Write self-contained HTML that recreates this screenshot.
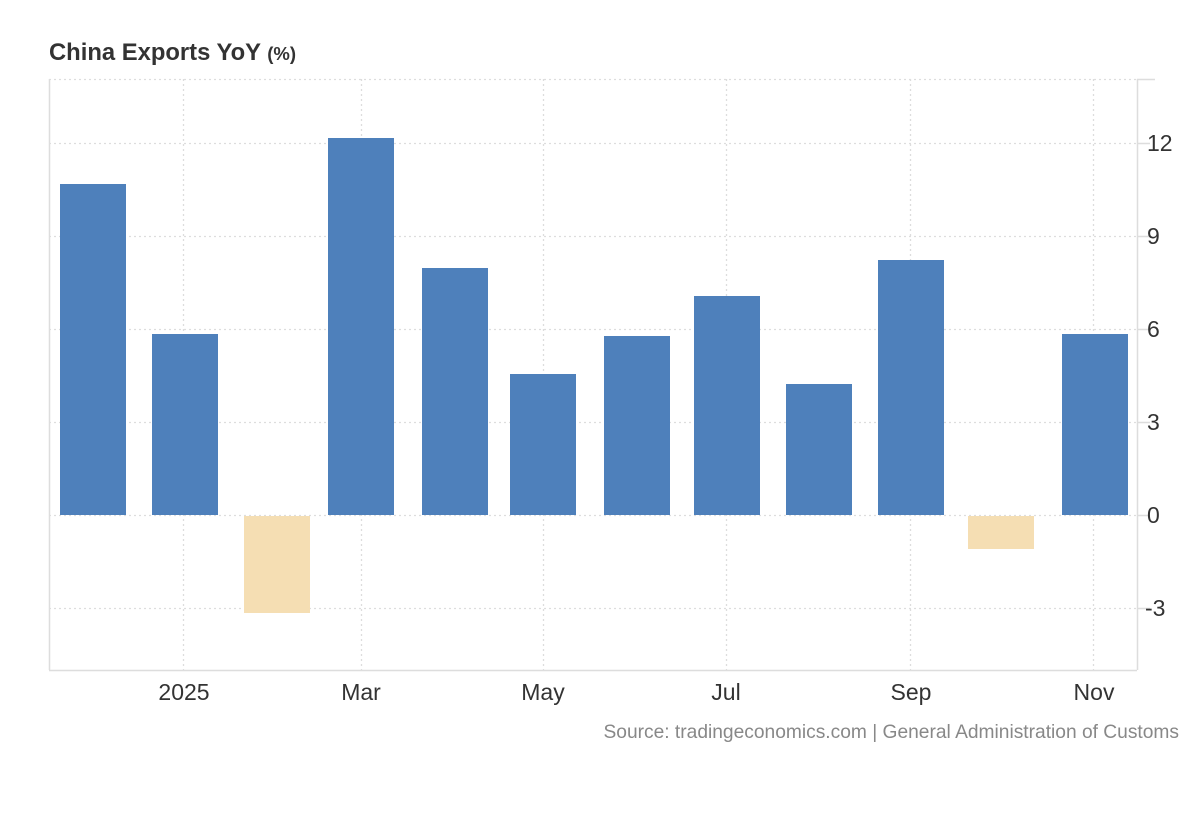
<!DOCTYPE html>
<html><head><meta charset="utf-8"><style>
html,body{margin:0;padding:0;background:#fff;}
body{width:1200px;height:820px;overflow:hidden;font-family:"Liberation Sans",Arial,sans-serif;}
</style></head><body>
<svg width="1200" height="820" xmlns="http://www.w3.org/2000/svg" font-family="Liberation Sans, Arial, sans-serif">
<text x="49" y="60" font-size="23.8" font-weight="bold" fill="#333">China Exports YoY <tspan font-size="18.5">(%)</tspan></text>
<g stroke="#ddd" stroke-width="1.3" stroke-dasharray="2,3">
<line x1="49" y1="79.5" x2="1137" y2="79.5"/>
<line x1="49" y1="143.5" x2="1137" y2="143.5"/>
<line x1="49" y1="236.5" x2="1137" y2="236.5"/>
<line x1="49" y1="329.5" x2="1137" y2="329.5"/>
<line x1="49" y1="422.5" x2="1137" y2="422.5"/>
<line x1="49" y1="515.5" x2="1137" y2="515.5"/>
<line x1="49" y1="608.5" x2="1137" y2="608.5"/>
<line x1="183.5" y1="79" x2="183.5" y2="670"/>
<line x1="361.5" y1="79" x2="361.5" y2="670"/>
<line x1="543.5" y1="79" x2="543.5" y2="670"/>
<line x1="726.5" y1="79" x2="726.5" y2="670"/>
<line x1="910.5" y1="79" x2="910.5" y2="670"/>
<line x1="1093.5" y1="79" x2="1093.5" y2="670"/>
</g>
<g stroke="#ddd" stroke-width="1.5">
<line x1="49.5" y1="79" x2="49.5" y2="670"/>
<line x1="1137.5" y1="79" x2="1137.5" y2="670"/>
<line x1="49" y1="670.5" x2="1137" y2="670.5"/>
<line x1="1137" y1="79.5" x2="1155" y2="79.5"/>
<line x1="1137" y1="143.5" x2="1150" y2="143.5"/>
<line x1="1137" y1="236.5" x2="1150" y2="236.5"/>
<line x1="1137" y1="329.5" x2="1150" y2="329.5"/>
<line x1="1137" y1="422.5" x2="1150" y2="422.5"/>
<line x1="1137" y1="515.5" x2="1150" y2="515.5"/>
<line x1="1137" y1="608.5" x2="1150" y2="608.5"/>
</g>
<g fill="#4e80bb">
<rect x="60" y="184" width="66" height="331"/>
<rect x="152" y="334" width="66" height="181"/>
<rect x="328" y="138" width="66" height="377"/>
<rect x="422" y="268" width="66" height="247"/>
<rect x="510" y="374" width="66" height="141"/>
<rect x="604" y="336" width="66" height="179"/>
<rect x="694" y="296" width="66" height="219"/>
<rect x="786" y="384" width="66" height="131"/>
<rect x="878" y="260" width="66" height="255"/>
<rect x="1062" y="334" width="66" height="181"/>
</g>
<g fill="#f5deb3">
<rect x="244" y="516" width="66" height="97"/>
<rect x="968" y="516" width="66" height="33"/>
</g>
<g font-size="23" fill="#333">
<text x="1147" y="151">12</text>
<text x="1147" y="244">9</text>
<text x="1147" y="337">6</text>
<text x="1147" y="430">3</text>
<text x="1147" y="523">0</text>
<text x="1145" y="616">-3</text>
</g>
<g font-size="23" fill="#333" text-anchor="middle">
<text x="184" y="700">2025</text>
<text x="361" y="700">Mar</text>
<text x="543" y="700">May</text>
<text x="726" y="700">Jul</text>
<text x="911" y="700">Sep</text>
<text x="1094" y="700">Nov</text>
</g>
<text x="1179" y="738" font-size="19.2" fill="#888" text-anchor="end">Source: tradingeconomics.com | General Administration of Customs</text>
</svg>
</body></html>
